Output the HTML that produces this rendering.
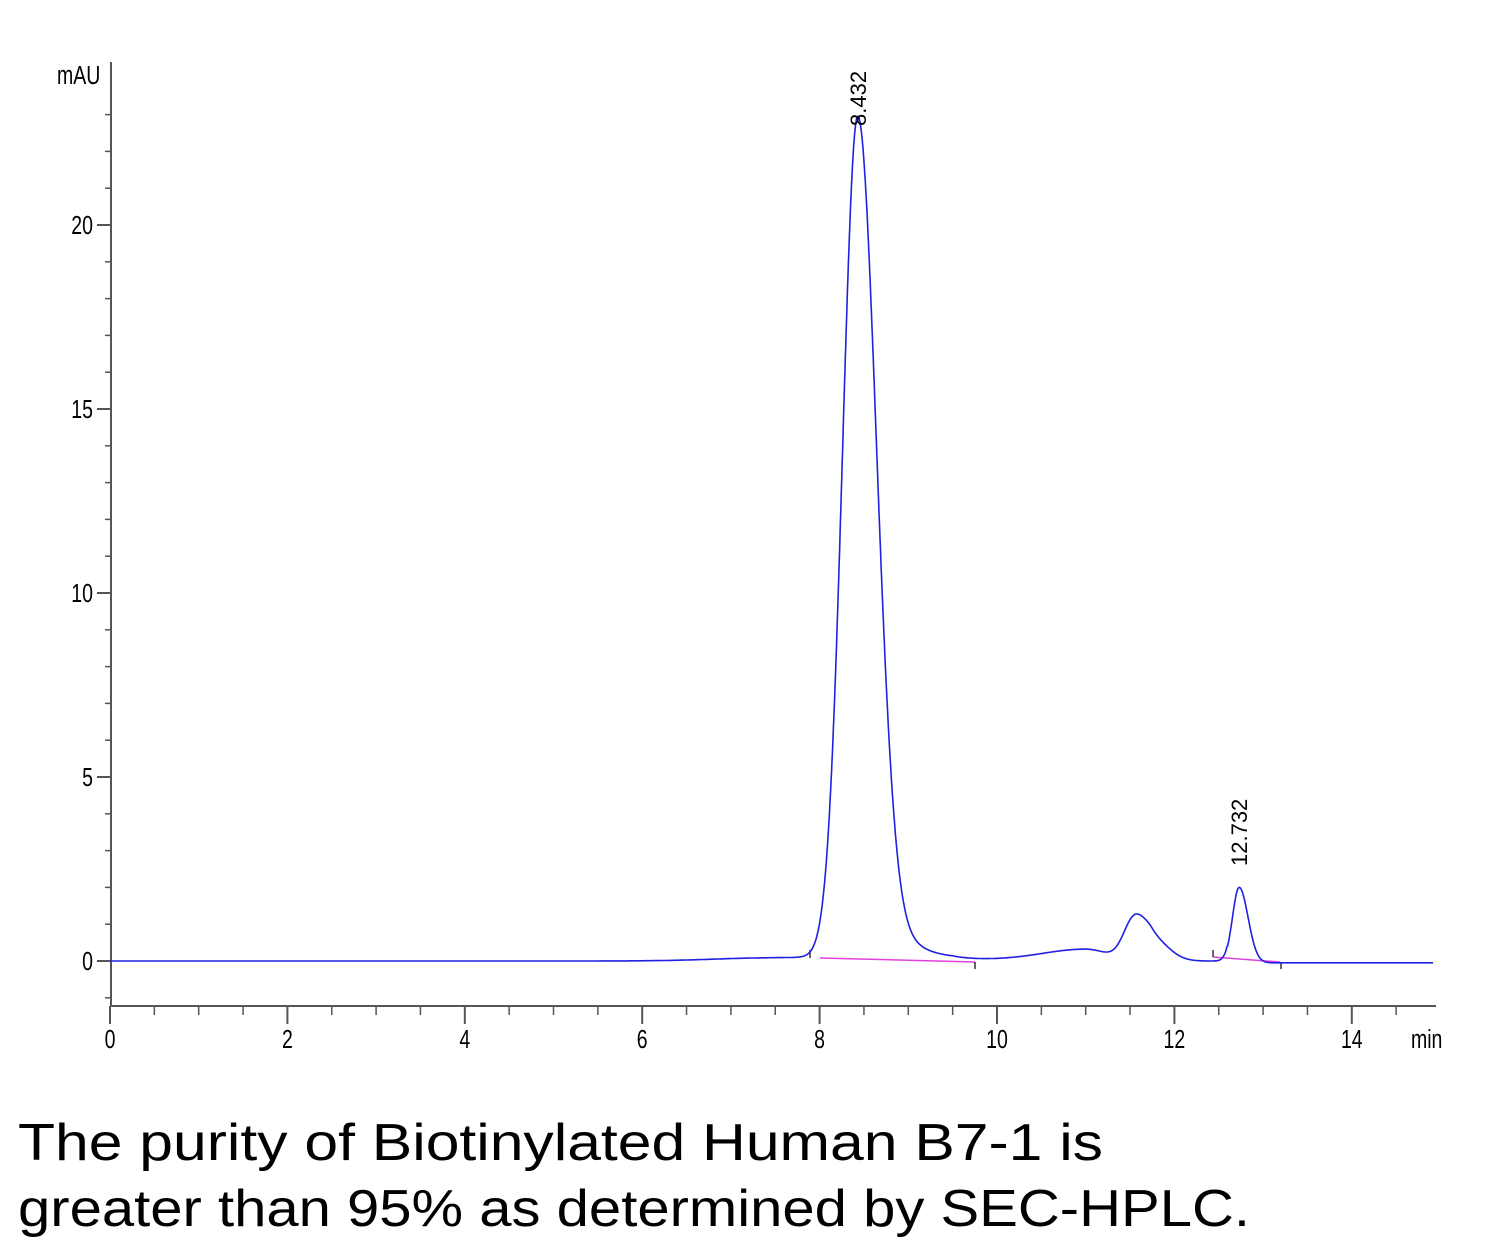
<!DOCTYPE html>
<html><head><meta charset="utf-8"><style>
html,body{margin:0;padding:0;background:#fff;}
svg{display:block;}
</style></head><body>
<svg id="s" width="1500" height="1252" xmlns="http://www.w3.org/2000/svg" font-family="Liberation Sans, sans-serif">
<g id="ax" stroke="#555" stroke-width="2" fill="none"></g>
<g id="lab" font-size="26" fill="#000"></g>
<path id="base" stroke="#e040e0" stroke-width="1.5" fill="none" d="M820,958 L975,962 M1213,957 L1280,962"/>
<g stroke="#000" stroke-width="1.2"><line x1="810" y1="950" x2="810" y2="958"/><line x1="975" y1="962" x2="975" y2="969"/><line x1="1213" y1="950" x2="1213" y2="957"/><line x1="1281" y1="962" x2="1281" y2="969"/></g>
<path id="trace" stroke="#2020e0" stroke-width="1.6" fill="none"/>
<text transform="translate(866,126) rotate(-90)" font-size="22" fill="#000">8.432</text>
<text transform="translate(1247,866) rotate(-90)" font-size="22" fill="#000">12.732</text>
<text x="18" y="1160" font-size="52" textLength="1085" lengthAdjust="spacingAndGlyphs">The purity of Biotinylated Human B7-1 is</text>
<text x="18" y="1226" font-size="52" textLength="1232" lengthAdjust="spacingAndGlyphs">greater than 95% as determined by SEC-HPLC.</text>
</svg>
<script>
var NS="http://www.w3.org/2000/svg";
function X(t){return 110+t*88.7}
function Y(v){return 961-v*36.8}
var ax=document.getElementById('ax'),lab=document.getElementById('lab');
function L(x1,y1,x2,y2,w){var l=document.createElementNS(NS,'line');l.setAttribute('x1',x1);l.setAttribute('y1',y1);l.setAttribute('x2',x2);l.setAttribute('y2',y2);if(w)l.setAttribute('stroke-width',w);ax.appendChild(l);}
function T(x,y,s,a){var t=document.createElementNS(NS,'text');t.setAttribute('x',x);t.setAttribute('y',y);t.setAttribute('text-anchor',a);t.setAttribute('transform','translate('+x+' 0) scale(0.75 1) translate('+(-x)+' 0)');t.textContent=s;lab.appendChild(t);}
L(111,62,111,1006);L(110,1006,1436,1006);
for(var v=-1;v<=23;v++){var y=Y(v);var maj=v%5==0;L(maj?97:105,y,111,y,maj?2:1.5);if(maj&&v>=0)T(93,y+9,String(v),'end');}
for(var t=0;t<=14.9;t+=0.5){var x=X(t);var maj=Math.abs(t%2)<1e-6;L(x,1006,x,maj?1024:1015,maj?2:1.5);if(maj)T(x,1048,String(t),'middle');}
T(1411,1048,'min','start');
T(57,84,'mAU','start');
function g(t,m,sl,sr,h){var s=t<m?sl:sr;return h*Math.exp(-0.5*Math.pow((t-m)/s,2));}
var d='';
for(var t=0;t<=14.92;t+=0.005){
 var v=0;
 v+=0.1/(1+Math.exp(-(t-6.8)/0.3))*(t<9.5?1:Math.exp(-(t-9.5)/0.4));
 v+=g(t,8.43,0.17,0.21,22.85)+g(t,8.85,0.15,0.3,0.4);
 v+=g(t,11.0,0.5,0.25,0.32)+g(t,11.55,0.12,0.12,1.15)+g(t,11.75,0.1,0.18,0.6);
 v+=g(t,12.73,0.075,0.1,2.05);
 if(t>12.6)v-=0.05;
 d+=(d?'L':'M')+X(t).toFixed(1)+','+Y(v).toFixed(1);
}
document.getElementById('trace').setAttribute('d',d);
</script>
</body></html>
